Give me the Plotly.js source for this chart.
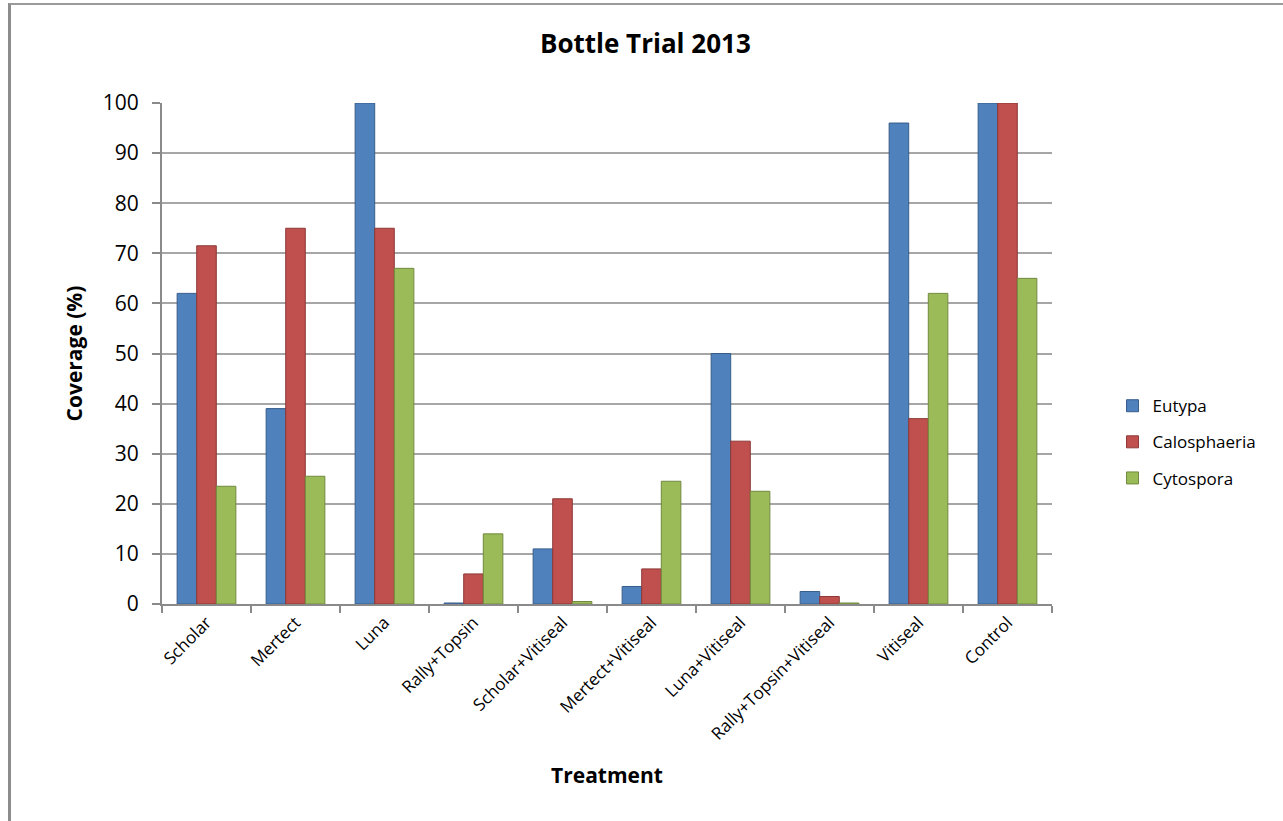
<!DOCTYPE html>
<html>
<head>
<meta charset="utf-8">
<script src="https://cdn.plot.ly/plotly-3.0.1.min.js"></script>
<style>
  html, body { margin: 0; padding: 0; background: #fff; }
  #frame { position: absolute; left: 8px; top: 3px; width: 1275px; height: 818px;
           border-left: 3px solid #8c8c8c; border-top: 2px solid #9a9a9a; box-sizing: border-box; }
  #chart { position: absolute; left: 0; top: 0; width: 1283px; height: 821px; }
</style>
</head>
<body>
<div id="frame"></div>
<div id="chart"></div>
<script>
const treatments = ["Scholar", "Mertect", "Luna", "Rally+Topsin", "Scholar+Vitiseal",
  "Mertect+Vitiseal", "Luna+Vitiseal", "Rally+Topsin+Vitiseal", "Vitiseal", "Control"];
const eutypa       = [62, 39, 100, 0.2, 11, 3.5, 50, 2.5, 96, 100];
const calosphaeria = [71.5, 75, 75, 6, 21, 7, 32.5, 1.5, 37, 100];
const cytospora    = [23.5, 25.5, 67, 14, 0.5, 24.5, 22.5, 0.2, 62, 65];
const seriesNames  = ["Eutypa", "Calosphaeria", "Cytospora"];
const seriesColors = ["#4F81BD", "#C0504D", "#9BBB59"];
const seriesLines  = ["#385D8A", "#8C3836", "#71893F"];
const seriesData   = [eutypa, calosphaeria, cytospora];
const yTicks = [0, 10, 20, 30, 40, 50, 60, 70, 80, 90, 100];

const FONT = "'Open Sans', Lato, sans-serif";

const traces = seriesData.map((vals, i) => ({
  type: "bar",
  name: seriesNames[i],
  x: treatments,
  y: vals,
  legendgroup: "g" + i,
  marker: { color: seriesColors[i], line: { color: seriesLines[i], width: 1 } },
  hoverinfo: "x+y+name"
}));

const layout = {
  width: 1283, height: 821,
  margin: { l: 162, r: 231, t: 103, b: 217 },
  paper_bgcolor: "rgba(0,0,0,0)",
  plot_bgcolor: "rgba(0,0,0,0)",
  barmode: "group",
  bargap: 0.34,
  bargroupgap: 0,
  title: {
    text: "<b>Bottle Trial 2013</b>",
    font: { family: FONT, size: 26, color: "#000" },
    x: 0.503, xanchor: "center", y: 0.947, yanchor: "middle"
  },
  font: { family: FONT, color: "#000" },
  xaxis: {
    type: "category",
    tickangle: -45,
    tickfont: { family: FONT, size: 17, color: "#000" },
    showline: true, linecolor: "#8a8a8a", linewidth: 2,
    ticks: "outside", tickson: "boundaries", ticklen: 7, tickcolor: "#8a8a8a", tickwidth: 2,
    showgrid: false,
    title: { text: "<b>Treatment</b>", font: { family: FONT, size: 21, color: "#000" }, standoff: 25 }
  },
  yaxis: {
    range: [0, 100],
    tickvals: yTicks,
    ticktext: yTicks.map(String),
    tickfont: { family: FONT, size: 21, color: "#000" },
    ticklabelstandoff: 9,
    showline: true, linecolor: "#8a8a8a", linewidth: 2,
    ticks: "outside", ticklen: 8, tickcolor: "#8a8a8a", tickwidth: 2,
    showgrid: true, gridcolor: "#a6a6a6", gridwidth: 1.5,
    zeroline: false,
    title: { text: "<b>Coverage (%)</b>", font: { family: FONT, size: 21, color: "#000" }, standoff: 14 }
  },
  legend: {
    x: 1.068, xanchor: "left",
    y: 0.323, yanchor: "middle",
    font: { family: FONT, size: 17, color: "#000" },
    tracegroupgap: 11,
    itemwidth: 30,
    bgcolor: "rgba(0,0,0,0)"
  },
  showlegend: true
};

Plotly.newPlot("chart", traces, layout, { displayModeBar: false });
</script>
</body>
</html>
